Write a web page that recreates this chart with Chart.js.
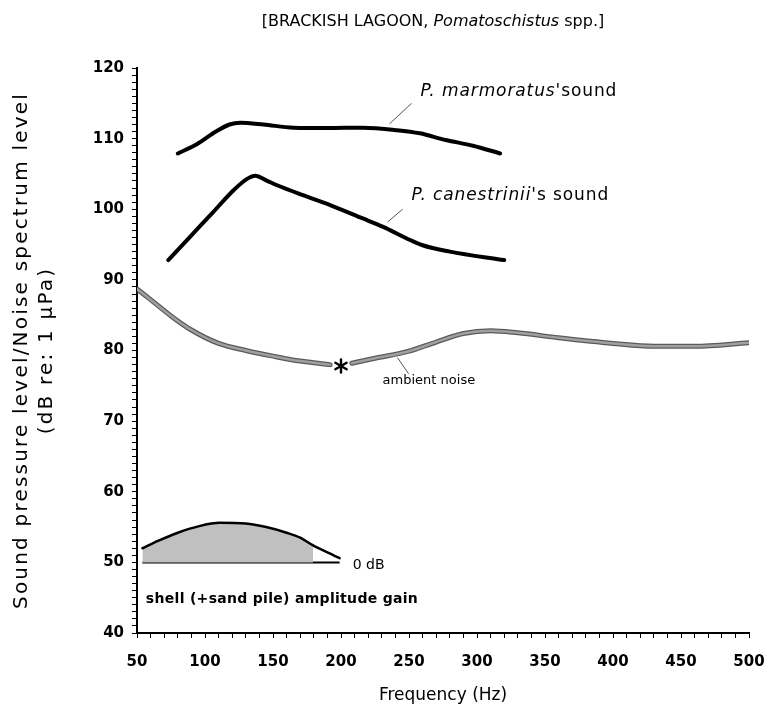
<!DOCTYPE html>
<html>
<head>
<meta charset="utf-8">
<script src="https://cdn.jsdelivr.net/npm/chart.js@4/dist/chart.umd.min.js"></script>
<style>
  html, body { margin: 0; padding: 0; background: #fff; }
</style>
</head>
<body>
<canvas id="chart" width="768" height="711"></canvas>
<script>
// levels in dB re 1 uPa, frequency in Hz
const marmFreq  = [80, 94, 108, 118, 126, 143, 165, 190, 216, 241, 258, 277, 297, 317];
const marmLevel = [107.9, 109.2, 111.0, 112.0, 112.25, 112.0, 111.55, 111.5, 111.55, 111.2, 110.75, 109.8, 109.0, 107.9];

const canFreq  = [73, 89, 106, 121, 131, 137, 145, 153, 172, 192, 216, 231, 248, 260, 280, 320];
const canLevel = [92.8, 96.1, 99.6, 102.7, 104.3, 104.75, 104.1, 103.4, 102.0, 100.6, 98.7, 97.5, 95.9, 94.9, 94.0, 92.8];

// null = gap left around the asterisk
const noiseFreq  = [50, 60, 75, 90, 110, 130, 150, 170, 192, 200, 208, 225, 250, 270, 290, 310, 330, 360, 400, 430, 460, 500];
const noiseLevel = [88.7, 87.2, 84.9, 82.9, 81.0, 80.0, 79.2, 78.5, 78.0, null, 78.2, 78.9, 79.9, 81.2, 82.4, 82.8, 82.5, 81.8, 81.0, 80.6, 80.6, 81.1];

// shell (+sand pile) amplitude gain inset, 0 dB drawn at the 50 line
const gainFreq  = [54, 65, 80, 95, 111, 130, 145, 160, 170, 179.5, 190, 199];
const gainLevel = [52.0, 53.0, 54.2, 55.1, 55.6, 55.5, 55.0, 54.2, 53.5, 52.4, 51.4, 50.6];
const gainFillEnd = 179.5;
const gainBase = 50;

const asteriskFreq = 200;
const asteriskLevel = 77.8;

const xTickLabels = [50, 100, 150, 200, 250, 300, 350, 400, 450, 500];
const yTickLabels = [40, 50, 60, 70, 80, 90, 100, 110, 120];

const FONT = "'DejaVu Sans', sans-serif";

function pts(xs, ys) {
    return xs.map((x, i) => ({ x: x, y: ys[i] }));
}

const gainFillPts = pts(gainFreq, gainLevel).filter(p => p.x <= gainFillEnd);

// leader lines from the labels to the curves
const leaders = [
    [[235.7, 112.1], [251.9, 115.0]],
    [[234.3, 98.2], [245.3, 100.0]],
    [[241.5, 79.0], [249.7, 76.7]]
];

// text notes placed in data coordinates
const notes = [
    { f: 258.5, v: 116.6, parts: [['italic', 'P. marmoratus'], ['normal', "'sound"]], size: 17, ls: 0.9 },
    { f: 251.9, v: 101.9, parts: [['italic', 'P. canestrinii'], ['normal', "'s sound"]], size: 17, ls: 0.9 },
    { f: 230.6, v: 75.7, parts: [['normal', 'ambient noise']], size: 13, ls: 0 },
    { f: 208.6, v: 49.6, parts: [['normal', '0 dB']], size: 14, ls: 0 },
    { f: 56.5, v: 44.8, parts: [['bold', 'shell (+sand pile) amplitude gain']], size: 14, ls: 0.3 }
];

function fontOf(style, size) {
    const st = style === 'italic' ? 'italic ' : (style === 'bold' ? 'bold ' : '');
    return st + size + 'px ' + FONT;
}

function drawParts(ctx, parts, x, y, size, ls) {
    ctx.letterSpacing = ls + 'px';
    parts.forEach(([style, txt]) => {
        ctx.font = fontOf(style, size);
        ctx.fillText(txt, x, y);
        x += ctx.measureText(txt).width;
    });
    ctx.letterSpacing = '0px';
}

const notesPlugin = {
    id: 'notes',
    afterDatasetsDraw(chart) {
        const ctx = chart.ctx;
        const xs = chart.scales.x, ys = chart.scales.y;
        ctx.save();
        ctx.fillStyle = '#000';
        ctx.textBaseline = 'middle';
        ctx.textAlign = 'left';
        notes.forEach(n => {
            drawParts(ctx, n.parts, xs.getPixelForValue(n.f), ys.getPixelForValue(n.v), n.size, n.ls);
        });

        // asterisk on the noise curve
        const ax = xs.getPixelForValue(asteriskFreq);
        const ay = ys.getPixelForValue(asteriskLevel);
        ctx.strokeStyle = '#000';
        ctx.lineWidth = 2.4;
        ctx.lineCap = 'round';
        const r = 6.5;
        for (let k = 0; k < 3; k++) {
            const a = Math.PI / 2 + k * Math.PI / 3;
            ctx.beginPath();
            ctx.moveTo(ax - r * Math.cos(a), ay - r * Math.sin(a));
            ctx.lineTo(ax + r * Math.cos(a), ay + r * Math.sin(a));
            ctx.stroke();
        }

        // title, centred a little left of the plot centre
        const parts = [['normal', '[BRACKISH LAGOON, '], ['italic', 'Pomatoschistus'], ['normal', ' spp.]']];
        let total = 0;
        parts.forEach(([st, t]) => { ctx.font = fontOf(st, 16); total += ctx.measureText(t).width; });
        drawParts(ctx, parts, 433 - total / 2, 22, 16, 0);

        // y axis title, two rotated lines
        const cy = (ys.top + ys.bottom) / 2;
        ctx.textAlign = 'center';
        ctx.font = fontOf('normal', 20);
        [['Sound pressure level/Noise spectrum level', 22, 2.2], ['(dB re: 1 \u00b5Pa)', 47, 2.2]].forEach(([t, x, ls]) => {
            ctx.save();
            ctx.translate(x, cy);
            ctx.rotate(-Math.PI / 2);
            ctx.letterSpacing = ls + 'px';
            ctx.fillText(t, 0, 0);
            ctx.restore();
        });
        ctx.restore();
    }
};

const lineBase = {
    pointRadius: 0,
    borderCapStyle: 'round',
    borderJoinStyle: 'round',
    cubicInterpolationMode: 'monotone',
    fill: false
};

const ctx = document.getElementById('chart').getContext('2d');
new Chart(ctx, {
    type: 'line',
    data: {
        datasets: [
            Object.assign({}, lineBase, { label: 'P. marmoratus', data: pts(marmFreq, marmLevel), borderColor: '#000', borderWidth: 4 }),
            Object.assign({}, lineBase, { label: 'P. canestrinii', data: pts(canFreq, canLevel), borderColor: '#000', borderWidth: 4 }),
            Object.assign({}, lineBase, { label: 'noise core', data: pts(noiseFreq, noiseLevel), borderColor: '#a0a0a0', borderWidth: 2.5, spanGaps: false }),
            Object.assign({}, lineBase, { label: 'ambient noise', data: pts(noiseFreq, noiseLevel), borderColor: '#5a5a5a', borderWidth: 5, spanGaps: false }),
            Object.assign({}, lineBase, { label: 'gain', data: pts(gainFreq, gainLevel), borderColor: '#000', borderWidth: 2.5 }),
            Object.assign({}, lineBase, { label: 'gain fill', data: gainFillPts, borderWidth: 0, borderColor: 'rgba(0,0,0,0)', backgroundColor: '#c0c0c0', fill: { value: gainBase } }),
            Object.assign({}, lineBase, { label: '0 dB', data: [{ x: gainFreq[0], y: gainBase }, { x: gainFreq[gainFreq.length - 1], y: gainBase }], borderColor: '#000', borderWidth: 2, borderCapStyle: 'butt' })
        ].concat(leaders.map(l => Object.assign({}, lineBase, {
            label: 'leader', data: l.map(p => ({ x: p[0], y: p[1] })), borderColor: '#555', borderWidth: 1, borderCapStyle: 'butt', cubicInterpolationMode: 'default', tension: 0
        })))
    },
    options: {
        responsive: false,
        animation: false,
        layout: { padding: { top: 68, right: 19, bottom: 0, left: 0 } },
        plugins: {
            legend: { display: false },
            tooltip: { enabled: false },
            title: { display: false }
        },
        scales: {
            x: {
                type: 'linear',
                min: 50,
                max: 500,
                afterFit: s => { s.height = 78; s.paddingLeft = 0; s.paddingRight = 0; },
                border: { display: true, color: '#000', width: 2 },
                grid: { drawOnChartArea: false, drawTicks: true, tickLength: 5, color: '#000', lineWidth: 1 },
                ticks: {
                    stepSize: 10,
                    autoSkip: false,
                    maxRotation: 0,
                    padding: 15,
                    color: '#000',
                    font: { family: FONT, size: 15, weight: 'bold' },
                    callback: v => xTickLabels.includes(v) ? String(v) : ''
                },
                title: {
                    display: true,
                    text: 'Frequency (Hz)',
                    color: '#000',
                    font: { family: FONT, size: 17 },
                    padding: { top: 0, bottom: 5 }
                }
            },
            y: {
                type: 'linear',
                min: 40,
                max: 120,
                afterFit: s => { s.width = 137; s.paddingTop = 0; s.paddingBottom = 0; },
                border: { display: true, color: '#000', width: 2 },
                grid: { drawOnChartArea: false, drawTicks: true, tickLength: 5, color: '#000', lineWidth: 1 },
                ticks: {
                    stepSize: 1,
                    autoSkip: false,
                    padding: 8,
                    color: '#000',
                    font: { family: FONT, size: 15, weight: 'bold' },
                    callback: v => yTickLabels.includes(v) ? String(v) : ''
                }
            }
        }
    },
    plugins: [notesPlugin]
});
</script>
</body>
</html>
